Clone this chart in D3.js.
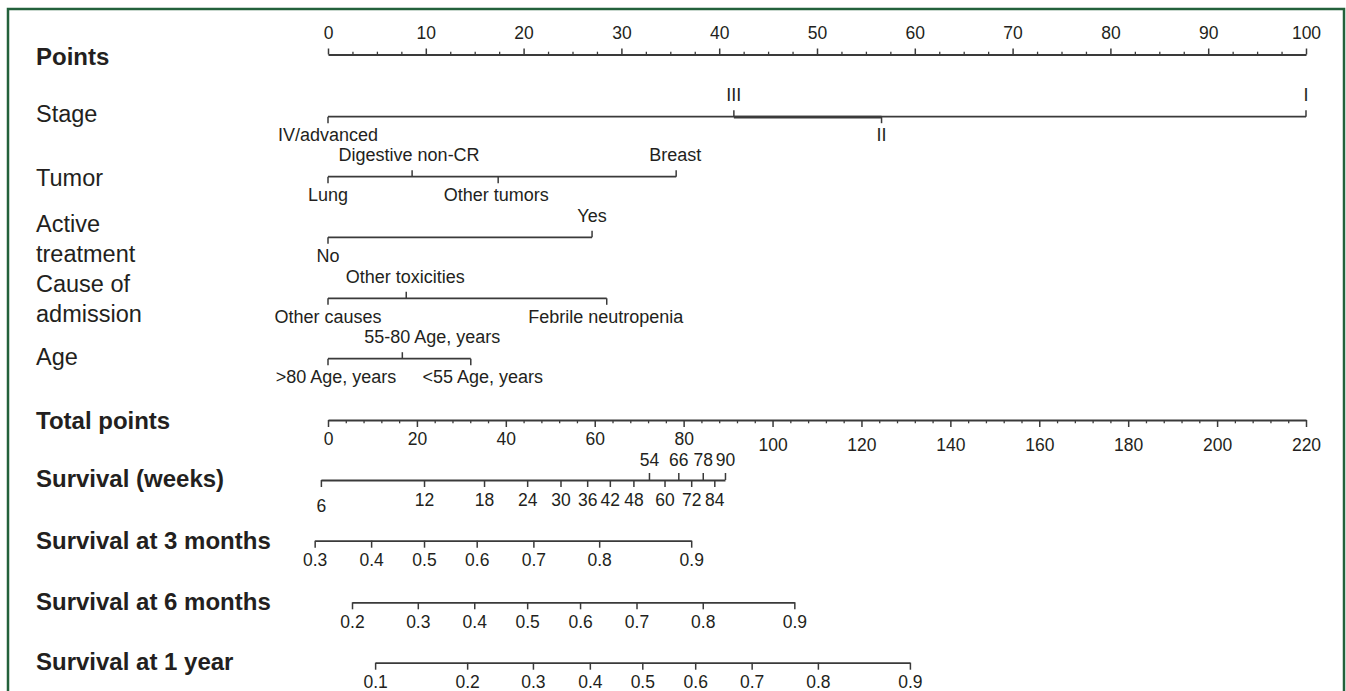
<!DOCTYPE html>
<html><head><meta charset="utf-8">
<script src="https://cdn.jsdelivr.net/npm/d3@7"></script>
<style>
html,body{margin:0;padding:0;background:#fff;}
svg{display:block;}
text{font-family:"Liberation Sans",Arial,Helvetica,sans-serif;fill:#231f20;}
</style></head><body>
<svg id="chart" width="1346" height="691"></svg>
<script>
// ---------------- data ----------------
const rowNames = ["Points","Stage","Tumor","Active treatment","Cause of admission","Age","Total points","Survival (weeks)","Survival at 3 months","Survival at 6 months","Survival at 1 year"];

const pointsTicks = [0,10,20,30,40,50,60,70,80,90,100];
const totalTicks  = [0,20,40,60,80,100,120,140,160,180,200,220];

const stageLevels = ["IV/advanced","III","II","I"];
const stagePoints = [0,41.5,56.6,100];
const stageSides  = ["below","above","below","above"];

const tumorLevels = ["Lung","Digestive non-CR","Other tumors","Breast"];
const tumorPoints = [0,8.6,17.4,35.6];
const tumorSides  = ["below","above","below","above"];

const activeLevels = ["No","Yes"];
const activePoints = [0,27.0];
const activeSides  = ["below","above"];

const causeLevels = ["Other causes","Other toxicities","Febrile neutropenia"];
const causePoints = [0,8.0,28.5];
const causeSides  = ["below","above","below"];

const ageLevels = [">80 Age, years","55-80 Age, years","<55 Age, years"];
const agePoints = [0,7.6,14.6];
const ageSides  = ["below","above","below"];

// survival scales: tick value -> total points
const weeksTicks = [6,12,18,24,30,36,42,48,54,60,66,72,78,84,90];
const weeksTotal = [-1.6,21.6,35.1,44.8,52.3,58.3,63.4,68.7,72.2,75.7,78.8,81.7,84.3,86.9,89.3];
const weeksAbove = [54,66,78,90];

const surv3Ticks = [0.3,0.4,0.5,0.6,0.7,0.8,0.9];
const surv3Total = [-3.0,9.7,21.6,33.45,46.2,61.0,81.7];

const surv6Ticks = [0.2,0.3,0.4,0.5,0.6,0.7,0.8,0.9];
const surv6Total = [5.4,20.2,32.9,44.8,56.7,69.4,84.3,104.9];

const surv12Ticks = [0.1,0.2,0.3,0.4,0.5,0.6,0.7,0.8,0.9];
const surv12Total = [10.6,31.3,46.1,58.9,70.7,82.6,95.3,110.2,130.9];

// ---------------- layout ----------------
const svg = d3.select("#chart");
const LINE = "#3a3a3a", TXT = "#231f20";
const X0 = 328, X1 = 1306;
const rowY = [54.5,116.7,176.7,237.3,298.3,358.7,420,480,540.7,602.3,662.7];
const labelX = 36;
const leftLayout = [
  [0,65],[1,122.3],[2,186],[3,232.3,261.7],[4,291.7,321.7],[5,365],
  [6,429.3],[7,486.7],[8,549.3],[9,610],[10,670]
];
const boldRows = new Set([0,6,7,8,9,10]);

const xP = d3.scaleLinear().domain([0,100]).range([X0,X1]);
const xT = d3.scaleLinear().domain([0,220]).range([X0,X1]);

// border
svg.append("rect").attr("x",8).attr("y",9).attr("width",1336).attr("height",700)
  .attr("fill","none").attr("stroke","#23613b").attr("stroke-width",2.5);

// left labels
leftLayout.forEach(([ri, ...ys]) => {
  const name = rowNames[ri];
  let parts = [name];
  if (ys.length === 2) {
    parts = ri === 3 ? ["Active","treatment"] : ["Cause of","admission"];
  }
  parts.forEach((p,i) => {
    svg.append("text").attr("x",labelX).attr("y",ys[i])
      .attr("font-size", boldRows.has(ri) ? 24 : 23.5)
      .attr("font-weight", boldRows.has(ri) ? "bold" : "normal")
      .text(p);
  });
});

function styleAxis(g, fs){
  g.selectAll(".domain").attr("stroke",LINE).attr("stroke-width",1.8);
  g.selectAll(".tick line").attr("stroke",LINE).attr("stroke-width",1.5);
  g.selectAll("text").attr("font-size",fs).attr("fill",TXT)
    .attr("font-family",'"Liberation Sans",Arial,Helvetica,sans-serif');
}

// Points axis
{
  const y = rowY[0];
  const gm = svg.append("g").attr("transform",`translate(0,${y})`)
    .call(d3.axisTop(xP).tickValues(d3.range(0,100.01,2.5).filter(v=>v%10!==0)).tickSize(2.8).tickSizeOuter(0).tickFormat(""));
  gm.select(".domain").remove();
  gm.selectAll(".tick line").attr("stroke",LINE).attr("stroke-width",1.3);
  const g = svg.append("g").attr("transform",`translate(0,${y})`)
    .call(d3.axisTop(xP).tickValues(pointsTicks).tickSize(6).tickSizeOuter(0));
  styleAxis(g,17.5);
  g.selectAll("text").attr("y",-15.7).attr("dy",null);
}

// categorical rows
function catRow(ri, levels, pts, sides, nudges){
  const y = rowY[ri];
  const g = svg.append("g");
  g.append("line").attr("x1",xP(d3.min(pts))).attr("x2",xP(d3.max(pts)))
    .attr("y1",y).attr("y2",y).attr("stroke",LINE).attr("stroke-width",1.8);
  levels.forEach((lv,i) => {
    const x = xP(pts[i]);
    const up = sides[i] === "above";
    g.append("line").attr("x1",x).attr("x2",x).attr("y1",y).attr("y2",up ? y-6.5 : y+6.5)
      .attr("stroke",LINE).attr("stroke-width",1.5);
    g.append("text").attr("x",x + (nudges ? nudges[i] : 0)).attr("y",up ? y-15.5 : y+24.7)
      .attr("text-anchor","middle").attr("font-size",18).text(lv);
  });
  return g;
}
const stageG = catRow(1, stageLevels, stagePoints, stageSides);
// overlapping segment rendered darker in the original (III to II)
stageG.append("line").attr("x1",xP(stagePoints[1])).attr("x2",xP(stagePoints[2]))
  .attr("y1",rowY[1]+0.4).attr("y2",rowY[1]+0.4).attr("stroke",LINE).attr("stroke-width",2.6);
catRow(2, tumorLevels, tumorPoints, tumorSides, [0,-3,-2,-1]);
catRow(3, activeLevels, activePoints, activeSides);
catRow(4, causeLevels, causePoints, causeSides, [0,-1,-1]);
catRow(5, ageLevels, agePoints, ageSides, [8,30,12]);

// Total points axis
{
  const y = rowY[6];
  const gm = svg.append("g").attr("transform",`translate(0,${y})`)
    .call(d3.axisBottom(xT).tickValues(d3.range(0,220.01,4).filter(v=>v%20!==0)).tickSize(3.3).tickSizeOuter(0).tickFormat(""));
  gm.select(".domain").remove();
  gm.selectAll(".tick line").attr("stroke",LINE).attr("stroke-width",1.3);
  const g = svg.append("g").attr("transform",`translate(0,${y})`)
    .call(d3.axisBottom(xT).tickValues(totalTicks).tickSize(7).tickSizeOuter(0));
  styleAxis(g,17.5);
  g.selectAll("text").attr("dy",null).attr("y",d => d < 100 ? 25.3 : 31.3);
}

// Weeks axis (piecewise-linear scale through the nomogram positions)
{
  const y = rowY[7];
  const sW = d3.scaleLinear().domain(weeksTicks).range(weeksTotal.map(xT));
  const below = weeksTicks.filter(v => !weeksAbove.includes(v));
  const g = svg.append("g").attr("transform",`translate(0,${y})`)
    .call(d3.axisBottom(sW).tickValues(below).tickSize(7).tickSizeOuter(0).tickFormat(d3.format("d")));
  styleAxis(g,17.5);
  g.selectAll("text").attr("dy",null).attr("y",d => d === 6 ? 32.3 : 25.6);
  const g2 = svg.append("g").attr("transform",`translate(0,${y})`)
    .call(d3.axisTop(sW).tickValues(weeksAbove).tickSize(7).tickSizeOuter(0).tickFormat(d3.format("d")));
  g2.select(".domain").remove();
  styleAxis(g2,17.5);
  g2.selectAll("text").attr("dy",null).attr("y",-13.7);
}

// survival probability axes
function probAxis(ri, ticks, totals){
  const y = rowY[ri];
  const s = d3.scaleLinear().domain(ticks).range(totals.map(xT));
  const g = svg.append("g").attr("transform",`translate(0,${y})`)
    .call(d3.axisBottom(s).tickValues(ticks).tickSize(7).tickSizeOuter(0).tickFormat(d3.format(".1f")));
  styleAxis(g,17.5);
  g.selectAll("text").attr("dy",null).attr("y",25.3);
}
probAxis(8, surv3Ticks, surv3Total);
probAxis(9, surv6Ticks, surv6Total);
probAxis(10, surv12Ticks, surv12Total);
</script>
</body></html>
